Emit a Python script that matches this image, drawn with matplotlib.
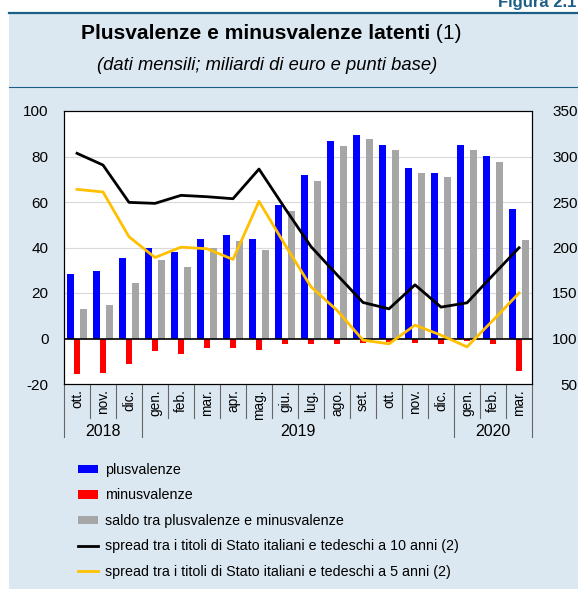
import numpy as np
import matplotlib
matplotlib.use("Agg")
import matplotlib.pyplot as plt
import matplotlib.transforms as mtransforms
from matplotlib.patches import Rectangle, Patch
from matplotlib.lines import Line2D

plt.rcParams['font.family'] = ['Liberation Sans', 'DejaVu Sans']
plt.rcParams['axes.unicode_minus'] = False

# Dati
mesi = ['ott.', 'nov.', 'dic.', 'gen.', 'feb.', 'mar.', 'apr.', 'mag.', 'giu.',
        'lug.', 'ago.', 'set.', 'ott.', 'nov.', 'dic.', 'gen.', 'feb.', 'mar.']
anni = ['2018', '2019', '2020']
mesi_per_anno = [3, 12, 3]

plusvalenze = [28.2, 29.6, 35.2, 39.6, 38.0, 43.7, 45.7, 43.7, 58.5,
               71.7, 86.8, 89.3, 84.9, 74.9, 72.7, 84.9, 80.1, 56.9]
minusvalenze = [-15.5, -15.0, -11.0, -5.3, -6.7, -4.1, -4.1, -5.1, -2.6,
                -2.3, -2.3, -1.9, -1.5, -2.1, -2.2, -1.0, -2.6, -14.1]
saldo = [12.8, 14.8, 24.3, 34.5, 31.4, 39.6, 42.8, 38.9, 56.0,
         69.4, 84.6, 87.5, 82.8, 72.9, 70.8, 82.8, 77.7, 43.1]
spread_10a = [303.5, 290.6, 249.6, 248.5, 257.3, 255.8, 253.6, 286.2, 243.0,
              201.0, 170.0, 139.6, 132.6, 159.0, 134.5, 139.2, 169.7, 199.7]
spread_5a = [263.9, 261.0, 211.8, 189.0, 200.4, 198.6, 186.9, 250.7, 203.0,
             156.8, 131.0, 98.2, 94.1, 114.7, 103.7, 90.8, 120.0, 149.9]

BG = '#dce8f1'
DARK = '#1b5f87'
W, H = 578, 589

fig = plt.figure(figsize=(W / 100, H / 100), dpi=100)
fig.patch.set_facecolor('white')

# pannello di sfondo
fig.patches.append(Rectangle((9 / W, 0), 1 - 9 / W, 1 - 13 / H, transform=fig.transFigure,
                             facecolor=BG, edgecolor='none', zorder=-10))
fig.lines.append(Line2D([9 / W, 1], [1 - 13 / H, 1 - 13 / H], transform=fig.transFigure,
                        color=DARK, lw=1.6))
fig.lines.append(Line2D([9 / W, 1], [1 - 87 / H, 1 - 87 / H], transform=fig.transFigure,
                        color=DARK, lw=0.8))

fig.text(576 / W, 1 - 7 / H, 'Figura 2.1', ha='right', va='baseline',
         fontsize=12, fontweight='bold', color=DARK)

# titolo (parte in grassetto + nota)
renderer = fig.canvas.get_renderer()
t1 = fig.text(0, 1 - 39 / H, 'Plusvalenze e minusvalenze latenti', ha='left', va='baseline',
              fontsize=15.1, fontweight='bold')
t2 = fig.text(0, 1 - 39 / H, ' (1)', ha='left', va='baseline', fontsize=15.1)
w1 = t1.get_window_extent(renderer).width
w2 = t2.get_window_extent(renderer).width
x0 = 271 - (w1 + w2) / 2
t1.set_x(x0 / W)
t2.set_x((x0 + w1) / W)
fig.text(267 / W, 1 - 70 / H, '(dati mensili; miliardi di euro e punti base)',
         ha='center', va='baseline', fontsize=13.2, fontstyle='italic')

ax = fig.add_axes([64 / W, 1 - 384 / H, (532 - 64) / W, (384 - 111) / H])
ax.set_facecolor('white')
x = np.arange(len(mesi))
bw = 0.245
ax.bar(x - bw, plusvalenze, bw, color='#0000ff', zorder=2)
ax.bar(x, minusvalenze, bw, color='#ff0000', zorder=2)
ax.bar(x + bw, saldo, bw, color='#a6a6a6', zorder=2)
ax.set_ylim(-20, 100)
ax.set_xlim(-0.5, len(mesi) - 0.5)
ax.set_yticks(np.arange(-20, 101, 20))
for v in [20, 40, 60, 80]:
    ax.axhline(v, color='#dadada', lw=0.8, zorder=1)
ax.axhline(0, color='black', lw=1.2, zorder=3)
for s in ax.spines.values():
    s.set_linewidth(0.8)
ax.tick_params(axis='y', length=0, pad=11, labelsize=11)
ax.set_xticks(x)
ax.set_xticklabels(mesi, rotation=90, va='top', ha='center')
ax.tick_params(axis='x', length=0, pad=4, labelsize=9.8)

ax2 = ax.twinx()
ax2.plot(x, spread_10a, color='black', lw=2, zorder=4)
ax2.plot(x, spread_5a, color='#ffc000', lw=2, zorder=4)
ax2.set_ylim(50, 350)
ax2.set_yticks(np.arange(50, 351, 50))
ax2.tick_params(axis='y', length=0, pad=33, labelsize=11)
for lbl in ax2.get_yticklabels():
    lbl.set_horizontalalignment('right')
for s in ax2.spines.values():
    s.set_linewidth(0.8)

# separatori mesi e anni sotto l'asse
trans = mtransforms.blended_transform_factory(ax.transData, ax.transAxes)
ax_h = 384 - 111
mese_bottom = -(418 - 384) / ax_h
anno_bottom = -(437 - 384) / ax_h
confini = np.cumsum([0] + mesi_per_anno)
for k in range(len(mesi) + 1):
    bottom = anno_bottom if k in confini else mese_bottom
    ax.plot([k - 0.5, k - 0.5], [0, bottom], color='#666666', lw=0.8,
            transform=trans, clip_on=False)
for i, anno in enumerate(anni):
    centro = (confini[i] + confini[i + 1]) / 2 - 0.5
    ax.text(centro, -(431 - 384) / ax_h, anno, transform=trans, ha='center',
            va='center', fontsize=11.5)

# legenda
handles = [Patch(facecolor='#0000ff'), Patch(facecolor='#ff0000'), Patch(facecolor='#a6a6a6'),
           Line2D([], [], color='black', lw=2), Line2D([], [], color='#ffc000', lw=2)]
labels = ['plusvalenze', 'minusvalenze', 'saldo tra plusvalenze e minusvalenze',
          'spread tra i titoli di Stato italiani e tedeschi a 10 anni (2)',
          'spread tra i titoli di Stato italiani e tedeschi a 5 anni (2)']
fig.legend(handles, labels, loc='upper left', bbox_to_anchor=(78 / W, 1 - 463 / H),
           frameon=False, fontsize=10.3, handlelength=1.4, handleheight=0.55,
           handletextpad=0.5, labelspacing=0.8, borderaxespad=0, borderpad=0)

fig.savefig('out.png', dpi=100, facecolor=fig.get_facecolor())
